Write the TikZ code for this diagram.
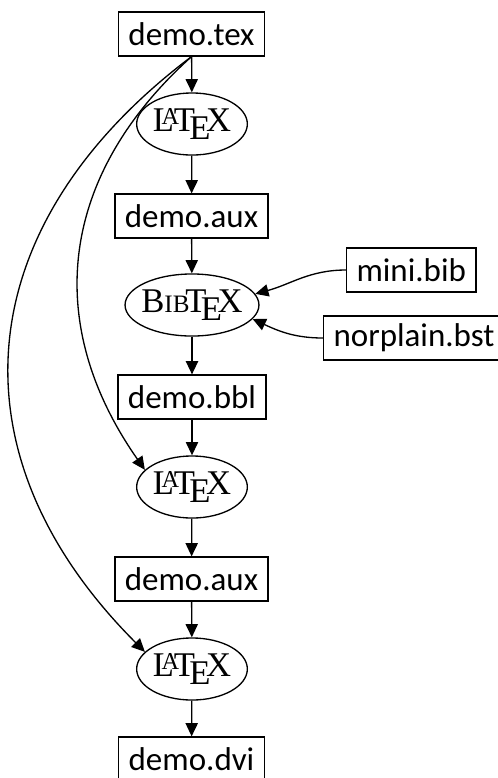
\documentclass[tikz,border=0pt]{standalone}
\usepackage{fontspec}
\setmainfont{Carlito}
\newfontfamily\logofont{Liberation Serif}
\usetikzlibrary{arrows.meta,shapes.geometric}
\newcommand\BibLogo{B{\fontsize{7.6pt}{8pt}\selectfont IB}\kern-0.12em\TeX}

\begin{document}
\begin{tikzpicture}[
  x=0.303pt, y=0.303pt,
  file/.style={
    draw,
    rectangle,
    inner xsep=3pt,
    inner ysep=1pt,
    minimum height=13.3pt,
    font=\fontsize{10pt}{12pt}\selectfont
    },
  prog/.style={
    draw,
    ellipse,
    inner sep=0pt,
    minimum width=32.7pt,
    minimum height=18.8pt,
    font=\logofont\fontsize{10.5pt}{12pt}\selectfont
    },
  flow/.style={
    -{Triangle[length=4pt,width=3.7pt]}
  }
]
\useasboundingbox (0,0) rectangle (497,-778);

% the main run, top to bottom
\node[file] (tex)    at (191.5,-34)  {demo.tex};
\node[prog] (latexa) at (192,-124)   {\LaTeX};
\node[file] (auxa)   at (191.5,-216) {demo.aux};
\node[prog, minimum width=39.4pt, inner xsep=-1pt]
            (bibtex) at (192,-305)   {\BibLogo};
\node[file] (bbl)    at (192,-397)   {demo.bbl};
\node[prog] (latexb) at (192,-487)   {\LaTeX};
\node[file] (auxb)   at (191.5,-579) {demo.aux};
\node[prog] (latexc) at (192,-669)   {\LaTeX};
\node[file] (dvi)    at (191.5,-759) {demo.dvi};

% inputs of bibtex
\node[file, anchor=west] (minibib)  at (346,-270) {mini.bib};
\node[file, anchor=west] (norplain) at (323,-338) {norplain.bst};

\foreach \From/\To in {tex/latexa, latexa/auxa, auxa/bibtex, bibtex/bbl,
                       bbl/latexb, latexb/auxb, auxb/latexc, latexc/dvi}
  \draw[flow] (\From) -- (\To);

\draw[flow] (minibib.west)  to[out=180, in=15]  (bibtex.10);
\draw[flow] (norplain.west) to[out=180, in=-25] (bibtex.-13);

\draw[flow] (tex.south) to[out=222, in=125, looseness=1.1] (latexb.160);
\draw[flow] (tex.south) to[out=217, in=135, looseness=1.2] (latexc.160);

\end{tikzpicture}
\end{document}
